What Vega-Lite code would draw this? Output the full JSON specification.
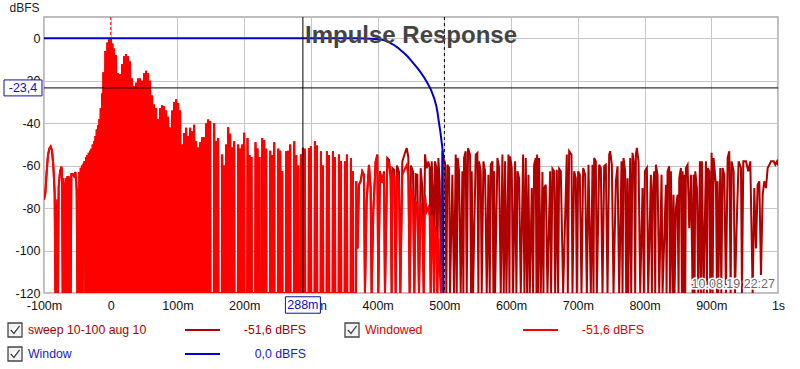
{
"$schema": "https://vega.github.io/schema/vega-lite/v6.json",
"width": 734, "height": 276,
"autosize": {"type": "none"},
"padding": {"left": 44, "top": 17, "right": 22, "bottom": 76},
"background": "white",
"title": {"text": "Impulse Response", "anchor": "middle", "frame": "group", "orient": "top", "offset": 0, "baseline": "alphabetic", "dy": 66, "font": "Liberation Sans", "fontSize": 24, "fontWeight": "bold", "color": "#444444"},
"config": {
  "font": "Liberation Sans",
  "view": {"stroke": "#a8a8a8", "strokeWidth": 1.5},
  "axis": {"domain": false, "ticks": false, "grid": true, "gridColor": "#c6c6c6", "gridWidth": 1, "labelFont": "Liberation Sans", "labelFontSize": 12.5, "labelColor": "#111111"},
  "legend": {"labelFont": "Liberation Sans", "labelFontSize": 12.3}
},
"datasets": {
"ir": [
{"t":-100,"s":-76,"w":-76},{"t":-98,"s":-73,"w":-73},{"t":-96,"s":-63,"w":-63},{"t":-94,"s":-55,"w":-55},{"t":-92,"s":-52,"w":-52},{"t":-90,"s":-51,"w":-51},{"t":-88,"s":-53,"w":-53},{"t":-86,"s":-60,"w":-60},{"t":-84,"s":-73,"w":-73},{"t":-83,"s":-120,"w":-120},{"t":-82,"s":-78,"w":-78},{"t":-81,"s":-120,"w":-120},{"t":-80,"s":-76,"w":-76},{"t":-79,"s":-120,"w":-120},{"t":-78,"s":-70,"w":-70},{"t":-76,"s":-63,"w":-63},{"t":-74,"s":-60.5,"w":-60.5},{"t":-73,"s":-62,"w":-62},{"t":-72,"s":-120,"w":-120},{"t":-71,"s":-66,"w":-66},{"t":-70,"s":-120,"w":-120},{"t":-69,"s":-68,"w":-68},{"t":-68,"s":-120,"w":-120},{"t":-67,"s":-66,"w":-66},{"t":-66,"s":-120,"w":-120},{"t":-65,"s":-65,"w":-65},{"t":-64,"s":-120,"w":-120},{"t":-63,"s":-65,"w":-65},{"t":-62,"s":-120,"w":-120},{"t":-61,"s":-66,"w":-66},{"t":-60,"s":-120,"w":-120},{"t":-59,"s":-64,"w":-64},{"t":-57,"s":-64,"w":-64},{"t":-55,"s":-65,"w":-65},{"t":-53,"s":-63,"w":-63},{"t":-52,"s":-66,"w":-66},{"t":-51,"s":-72,"w":-72},{"t":-50,"s":-120,"w":-120},{"t":-49,"s":-71,"w":-71},{"t":-48,"s":-120,"w":-120},{"t":-47,"s":-63,"w":-63},{"t":-46,"s":-120,"w":-120},{"t":-45,"s":-61,"w":-61},{"t":-44,"s":-120,"w":-120},{"t":-43,"s":-60,"w":-60},{"t":-42,"s":-120,"w":-120},{"t":-41,"s":-59.5,"w":-59.5},{"t":-40,"s":-59,"w":-59},{"t":-39,"s":-58,"w":-58},{"t":-38,"s":-120,"w":-120},{"t":-37,"s":-56,"w":-56},{"t":-36,"s":-120,"w":-120},{"t":-35,"s":-55,"w":-55},{"t":-34,"s":-120,"w":-120},{"t":-33,"s":-54,"w":-54},{"t":-32,"s":-120,"w":-120},{"t":-31,"s":-53,"w":-53},{"t":-30,"s":-120,"w":-120},{"t":-29,"s":-52,"w":-52},{"t":-28,"s":-120,"w":-120},{"t":-27,"s":-50,"w":-50},{"t":-26,"s":-120,"w":-120},{"t":-25,"s":-48.5,"w":-48.5},{"t":-24,"s":-120,"w":-120},{"t":-23,"s":-46,"w":-46},{"t":-22,"s":-120,"w":-120},{"t":-21,"s":-43,"w":-43},{"t":-20,"s":-120,"w":-120},{"t":-19,"s":-41,"w":-41},{"t":-18,"s":-120,"w":-120},{"t":-17,"s":-38,"w":-38},{"t":-16,"s":-120,"w":-120},{"t":-15,"s":-33,"w":-33},{"t":-14,"s":-120,"w":-120},{"t":-13,"s":-26,"w":-26},{"t":-12,"s":-120,"w":-120},
{"t":-11,"s":-16,"w":-16},{"t":-9.5,"s":-120,"w":-120},{"t":-8,"s":-6,"w":-6},{"t":-6.5,"s":-120,"w":-120},{"t":-5,"s":-2,"w":-2},{"t":-3.8,"s":-120,"w":-120},{"t":-2.5,"s":-0.6,"w":-0.6},{"t":-1.2,"s":-120,"w":-120},{"t":0,"s":0,"w":0},{"t":1.2,"s":-120,"w":-120},{"t":2.5,"s":-2.5,"w":-2.5},{"t":3.8,"s":-120,"w":-120},{"t":5,"s":-4.8,"w":-4.8},{"t":6.5,"s":-120,"w":-120},{"t":8,"s":-8,"w":-8},{"t":9.5,"s":-120,"w":-120},{"t":11,"s":-16.5,"w":-16.5},{"t":12.5,"s":-120,"w":-120},{"t":14,"s":-17,"w":-17},{"t":15.5,"s":-120,"w":-120},{"t":17,"s":-12.3,"w":-12.3},{"t":18.5,"s":-120,"w":-120},{"t":20,"s":-8.5,"w":-8.5},{"t":21.5,"s":-120,"w":-120},{"t":23,"s":-7.4,"w":-7.4},{"t":24.5,"s":-120,"w":-120},{"t":26,"s":-8.5,"w":-8.5},{"t":27.5,"s":-120,"w":-120},{"t":29,"s":-11,"w":-11},{"t":30.5,"s":-120,"w":-120},{"t":32,"s":-19,"w":-19},{"t":33.5,"s":-120,"w":-120},{"t":35,"s":-22.5,"w":-22.5},{"t":36.5,"s":-120,"w":-120},{"t":38,"s":-21,"w":-21},{"t":39.5,"s":-120,"w":-120},{"t":41,"s":-19,"w":-19},{"t":42.5,"s":-120,"w":-120},{"t":44,"s":-19,"w":-19},{"t":45.5,"s":-120,"w":-120},{"t":47,"s":-20,"w":-20},{"t":48.5,"s":-120,"w":-120},{"t":50,"s":-16.5,"w":-16.5},{"t":51.5,"s":-120,"w":-120},{"t":53,"s":-15.3,"w":-15.3},{"t":54.5,"s":-120,"w":-120},{"t":56,"s":-16.5,"w":-16.5},{"t":57.5,"s":-120,"w":-120},{"t":59,"s":-20,"w":-20},{"t":60.5,"s":-120,"w":-120},{"t":62,"s":-27,"w":-27},{"t":63.5,"s":-120,"w":-120},{"t":65,"s":-31.2,"w":-31.2},{"t":66.5,"s":-120,"w":-120},{"t":68,"s":-33,"w":-33},{"t":69.5,"s":-120,"w":-120},{"t":71,"s":-38,"w":-38},{"t":72.5,"s":-120,"w":-120},{"t":74,"s":-33,"w":-33},{"t":75.5,"s":-120,"w":-120},{"t":77,"s":-31.6,"w":-31.6},{"t":78.5,"s":-120,"w":-120},{"t":80,"s":-32,"w":-32},{"t":81.5,"s":-120,"w":-120},{"t":83,"s":-34,"w":-34},{"t":84.5,"s":-120,"w":-120},{"t":86,"s":-37,"w":-37},{"t":87.5,"s":-120,"w":-120},{"t":89,"s":-42,"w":-42},{"t":90.5,"s":-120,"w":-120},{"t":92,"s":-34,"w":-34},{"t":93.5,"s":-120,"w":-120},{"t":95,"s":-30,"w":-30},{"t":96.5,"s":-120,"w":-120},{"t":98,"s":-28.8,"w":-28.8},{"t":99.5,"s":-120,"w":-120},{"t":101,"s":-30.5,"w":-30.5},{"t":102.5,"s":-120,"w":-120},{"t":104,"s":-34,"w":-34},{"t":105.5,"s":-120,"w":-120},{"t":107,"s":-50,"w":-50},{"t":108.5,"s":-120,"w":-120},{"t":110,"s":-44.6,"w":-44.6},{"t":111.5,"s":-120,"w":-120},{"t":113,"s":-42.2,"w":-42.2},{"t":114.5,"s":-120,"w":-120},{"t":116,"s":-46,"w":-46},{"t":117.5,"s":-120,"w":-120},{"t":119,"s":-42.2,"w":-42.2},{"t":120.5,"s":-120,"w":-120},{"t":122,"s":-43.8,"w":-43.8},{"t":123.5,"s":-120,"w":-120},{"t":125,"s":-40.7,"w":-40.7},{"t":126.5,"s":-120,"w":-120},{"t":128,"s":-48.5,"w":-48.5},{"t":129.5,"s":-120,"w":-120},{"t":131,"s":-51.5,"w":-51.5},{"t":132.5,"s":-120,"w":-120},{"t":134,"s":-49,"w":-49},{"t":135.5,"s":-120,"w":-120},{"t":137,"s":-46.7,"w":-46.7},{"t":138.5,"s":-120,"w":-120},{"t":140,"s":-46.5,"w":-46.5},{"t":140.4,"s":-120,"w":-120},{"t":142.6,"s":-120,"w":-120},
{"t":143,"s":-40,"w":-40},{"t":144.5,"s":-120,"w":-120},{"t":146,"s":-38.3,"w":-38.3},{"t":147.5,"s":-120,"w":-120},{"t":149,"s":-39,"w":-39},{"t":149.4,"s":-120,"w":-120},{"t":154.6,"s":-120,"w":-120},
{"t":155,"s":-40,"w":-40},{"t":156.5,"s":-120,"w":-120},{"t":158,"s":-48.5,"w":-48.5},{"t":159.5,"s":-120,"w":-120},{"t":161,"s":-47,"w":-47},{"t":161.4,"s":-120,"w":-120},{"t":166.6,"s":-120,"w":-120},
{"t":167,"s":-54.8,"w":-54.8},{"t":168.5,"s":-120,"w":-120},{"t":170,"s":-60,"w":-60},{"t":171.5,"s":-120,"w":-120},{"t":173,"s":-50,"w":-50},{"t":173.4,"s":-120,"w":-120},{"t":175.6,"s":-120,"w":-120},
{"t":176,"s":-41.9,"w":-41.9},{"t":177.5,"s":-120,"w":-120},{"t":179,"s":-45,"w":-45},{"t":180.5,"s":-120,"w":-120},{"t":182,"s":-51.5,"w":-51.5},{"t":183.5,"s":-120,"w":-120},{"t":185,"s":-48.5,"w":-48.5},{"t":185.4,"s":-120,"w":-120},{"t":190.6,"s":-120,"w":-120},
{"t":191,"s":-50,"w":-50},{"t":192.5,"s":-120,"w":-120},{"t":194,"s":-52,"w":-52},{"t":195.5,"s":-120,"w":-120},{"t":197,"s":-50,"w":-50},{"t":198.5,"s":-120,"w":-120},{"t":200,"s":-44.5,"w":-44.5},{"t":200.4,"s":-120,"w":-120},{"t":204.6,"s":-120,"w":-120},
{"t":205,"s":-47,"w":-47},{"t":206.5,"s":-120,"w":-120},{"t":208,"s":-55,"w":-55},{"t":209.5,"s":-120,"w":-120},{"t":211,"s":-56,"w":-56},{"t":211.4,"s":-120,"w":-120},{"t":216.6,"s":-120,"w":-120},
{"t":217,"s":-49,"w":-49},{"t":218.5,"s":-120,"w":-120},{"t":220,"s":-52,"w":-52},{"t":221.5,"s":-120,"w":-120},{"t":223,"s":-56,"w":-56},{"t":223.4,"s":-120,"w":-120},{"t":226.6,"s":-120,"w":-120},
{"t":227,"s":-47,"w":-47},{"t":228.5,"s":-120,"w":-120},{"t":230,"s":-48,"w":-48},{"t":231.5,"s":-120,"w":-120},{"t":233,"s":-52,"w":-52},{"t":233.4,"s":-120,"w":-120},{"t":238.6,"s":-120,"w":-120},
{"t":239,"s":-53,"w":-53},{"t":240.5,"s":-120,"w":-120},{"t":242,"s":-55,"w":-55},{"t":243.5,"s":-120,"w":-120},{"t":245,"s":-49,"w":-49},{"t":245.4,"s":-120,"w":-120},{"t":250.6,"s":-120,"w":-120},
{"t":251,"s":-52,"w":-52},{"t":252.5,"s":-120,"w":-120},{"t":254,"s":-53,"w":-53},{"t":255.5,"s":-120,"w":-120},{"t":257,"s":-62.5,"w":-62.5},{"t":257.4,"s":-120,"w":-120},{"t":262.6,"s":-120,"w":-120},
{"t":263,"s":-53.2,"w":-53.2},{"t":264.5,"s":-120,"w":-120},{"t":266,"s":-53,"w":-53},{"t":267.5,"s":-120,"w":-120},{"t":269,"s":-50,"w":-50},{"t":269.4,"s":-120,"w":-120},{"t":274.6,"s":-120,"w":-120},
{"t":275,"s":-48.5,"w":-48.5},{"t":276.5,"s":-120,"w":-120},{"t":278,"s":-55,"w":-55},{"t":279.5,"s":-120,"w":-120},{"t":281,"s":-60,"w":-60},{"t":281.4,"s":-120,"w":-120},{"t":284.6,"s":-120,"w":-120},
{"t":285,"s":-54.8,"w":-54.8},{"t":286.5,"s":-120,"w":-120},{"t":288,"s":-51.6,"w":-51.6},{"t":289.5,"s":-120,"w":-120},{"t":291,"s":-52,"w":-52},{"t":291.4,"s":-120,"w":-120},{"t":296.6,"s":-120,"w":-120},
{"t":297,"s":-51.7,"w":-51.7},{"t":298.5,"s":-120,"w":-120},{"t":300,"s":-50.9,"w":-50.9},{"t":300.4,"s":-120,"w":-120},{"t":305.6,"s":-120,"w":-120},
{"t":306,"s":-48.5,"w":-48.5},{"t":307.5,"s":-120,"w":-120},{"t":309,"s":-50.5,"w":-50.5},{"t":309.4,"s":-120,"w":-120},{"t":314.6,"s":-120,"w":-120},
{"t":315,"s":-53.2,"w":-53.2},{"t":316.5,"s":-120,"w":-120},{"t":318,"s":-60,"w":-60},{"t":318.4,"s":-120,"w":-120},{"t":323.6,"s":-120,"w":-120},
{"t":324,"s":-53.2,"w":-53.2},{"t":325.5,"s":-120,"w":-120},{"t":327,"s":-55,"w":-55},{"t":327.4,"s":-120,"w":-120},{"t":332.6,"s":-120,"w":-120},
{"t":333,"s":-53.2,"w":-53.2},{"t":334.5,"s":-120,"w":-120},{"t":336,"s":-56,"w":-56},{"t":336.4,"s":-120,"w":-120},{"t":341.6,"s":-120,"w":-120},
{"t":342,"s":-54.8,"w":-54.8},{"t":343.5,"s":-120,"w":-120},{"t":345,"s":-58,"w":-58},{"t":345.4,"s":-120,"w":-120},{"t":350.6,"s":-120,"w":-120},
{"t":351,"s":-58,"w":-58},{"t":352.5,"s":-120,"w":-120},{"t":354,"s":-54.8,"w":-54.8},{"t":354.4,"s":-120,"w":-120},{"t":359.6,"s":-120,"w":-120},
{"t":360,"s":-56.4,"w":-56.4},{"t":361.5,"s":-120,"w":-120},{"t":363,"s":-62.7,"w":-62.7},{"t":363.4,"s":-120,"w":-120},{"t":367.6,"s":-120,"w":-120},{"t":368,"s":-67.4,"w":-67.4},
{"t":370,"s":-99,"w":-99},{"t":372,"s":-69,"w":-69},{"t":374.5,"s":-67.4,"w":-67.4},{"t":377,"s":-62.7,"w":-62.8},{"t":379.5,"s":-64.3,"w":-64.4},{"t":381,"s":-120,"w":-120},{"t":383.5,"s":-77,"w":-77.2},{"t":387,"s":-59.6,"w":-59.8},{"t":389.5,"s":-70.6,"w":-70.9},{"t":391,"s":-120,"w":-120},{"t":393.5,"s":-81.5,"w":-81.9},{"t":397,"s":-58,"w":-58.5},{"t":399.5,"s":-54.8,"w":-55.3},{"t":401,"s":-120,"w":-120},{"t":403.5,"s":-62.7,"w":-63.3},{"t":407,"s":-67.4,"w":-68.2},{"t":409.5,"s":-62.7,"w":-63.7},{"t":411,"s":-120,"w":-120},{"t":414.5,"s":-56.4,"w":-57.9},{"t":417,"s":-57.2,"w":-59.1},{"t":419.5,"s":-64.3,"w":-66.6},{"t":421,"s":-120,"w":-120},{"t":422,"s":-61.1,"w":-63.9},{"t":425,"s":-62,"w":-65.3},{"t":427,"s":-120,"w":-120},{"t":429,"s":-60,"w":-64.2},{"t":432,"s":-63,"w":-67.9},{"t":434,"s":-120,"w":-120},{"t":437,"s":-58,"w":-64.3},{"t":440,"s":-55,"w":-62.1},{"t":443.5,"s":-51.7,"w":-59.8},{"t":446,"s":-56,"w":-64.9},{"t":448,"s":-120,"w":-120},{"t":450,"s":-60,"w":-70.4},{"t":453,"s":-62.7,"w":-74.2},{"t":455,"s":-120,"w":-120},{"t":457,"s":-64,"w":-77},{"t":459.5,"s":-64.3,"w":-78.3},{"t":462,"s":-120,"w":-120},{"t":464.5,"s":-61.2,"w":-77.3},{"t":467,"s":-70.6,"w":-87.8},{"t":469,"s":-120,"w":-120},{"t":471,"s":-54.7,"w":-73.8},{"t":473.5,"s":-61.2,"w":-81.7},{"t":476,"s":-58,"w":-79.9},{"t":478,"s":-61.2,"w":-84.1},{"t":479.5,"s":-120,"w":-120},{"t":481,"s":-58,"w":-83.1},{"t":483,"s":-72,"w":-98.8},{"t":484.5,"s":-120,"w":-120},{"t":486,"s":-58,"w":-88.2},{"t":488,"s":-61,"w":-93},{"t":489.5,"s":-120,"w":-120},{"t":491,"s":-56.4,"w":-94.2},{"t":493,"s":-67.4,"w":-109.4},{"t":495,"s":-120,"w":-120},{"t":497,"s":-53,"w":-104.7},{"t":499,"s":-57,"w":-120},
{"t":501,"s":-58.5},{"t":503,"s":-120},{"t":504.5,"s":-59.6},{"t":507,"s":-61.1},{"t":508.5,"s":-120},{"t":512,"s":-64.3},{"t":514.5,"s":-120},{"t":517,"s":-54.8},{"t":518.5,"s":-120},{"t":520,"s":-56.4},{"t":522,"s":-62.7},{"t":524.5,"s":-120},{"t":527,"s":-62.7},{"t":528.5,"s":-120},{"t":529.5,"s":-56.4},{"t":532,"s":-53.2},{"t":533.5,"s":-120},{"t":535.5,"s":-51.7},{"t":538.5,"s":-54.8},{"t":540,"s":-120},{"t":541,"s":-62.7},{"t":543,"s":-120},{"t":547,"s":-54.8},{"t":549.5,"s":-54},{"t":551,"s":-120},{"t":552,"s":-58},{"t":554.5,"s":-62.7},{"t":556,"s":-120},{"t":558.5,"s":-58},{"t":561,"s":-62.7},{"t":563.5,"s":-120},{"t":566,"s":-64.3},{"t":568,"s":-120},{"t":569.5,"s":-59.6},{"t":572,"s":-58},{"t":573.5,"s":-120},{"t":574.5,"s":-62.7},{"t":576,"s":-120},{"t":579.5,"s":-56.4},{"t":582,"s":-61.1},{"t":584.5,"s":-120},{"t":587,"s":-54.8},{"t":589,"s":-120},{"t":591,"s":-58},{"t":593,"s":-120},{"t":596,"s":-54.8},{"t":597.5,"s":-120},{"t":598.5,"s":-55.6},{"t":601,"s":-61.1},{"t":603,"s":-120},{"t":606,"s":-58},{"t":608,"s":-120},{"t":609.5,"s":-62.7},{"t":612,"s":-65.9},{"t":614.5,"s":-120},{"t":618,"s":-54.8},{"t":620,"s":-120},{"t":622,"s":-56.4},{"t":624,"s":-120},{"t":626,"s":-64.3},{"t":628,"s":-120},{"t":631,"s":-70.6},{"t":633,"s":-120},{"t":634.5,"s":-59.6},{"t":637,"s":-56.4},{"t":638,"s":-120},{"t":639,"s":-54.8},{"t":640.5,"s":-120},{"t":642,"s":-56.4},{"t":644.5,"s":-120},{"t":647,"s":-63},{"t":648.5,"s":-120},{"t":649.5,"s":-70.6},{"t":652,"s":-69},{"t":654.5,"s":-120},{"t":658.5,"s":-62.7},{"t":660,"s":-120},{"t":662,"s":-61.5},{"t":664.5,"s":-62.7},{"t":666,"s":-120},{"t":668.5,"s":-62},{"t":670.5,"s":-120},{"t":672,"s":-61.5},{"t":674.5,"s":-62.7},{"t":678,"s":-120},{"t":683.5,"s":-54.8},{"t":685,"s":-120},{"t":687,"s":-53.2},{"t":690.5,"s":-54.8},{"t":692,"s":-120},{"t":694.5,"s":-62.7},{"t":697,"s":-65.9},{"t":698.5,"s":-120},{"t":700.5,"s":-62.7},{"t":703,"s":-64.3},{"t":705.5,"s":-120},{"t":708,"s":-61.1},{"t":711,"s":-64.3},{"t":713.5,"s":-120},{"t":716,"s":-59.6},{"t":719.5,"s":-120},{"t":722,"s":-59.6},{"t":723.5,"s":-120},{"t":724.5,"s":-56.4},{"t":727,"s":-58},{"t":728.5,"s":-120},{"t":732,"s":-59.6},{"t":734.5,"s":-61.1},{"t":737,"s":-120},{"t":739.5,"s":-60.3},{"t":742,"s":-59.6},{"t":744.5,"s":-120},{"t":747,"s":-54.8},{"t":748.5,"s":-53.2},{"t":751,"s":-59.6},{"t":753.5,"s":-120},{"t":757,"s":-67.4},{"t":759.5,"s":-60.3},{"t":762,"s":-120},{"t":765.5,"s":-58},{"t":767,"s":-120},{"t":768.5,"s":-56.4},{"t":771,"s":-62.7},{"t":772.5,"s":-120},{"t":774.5,"s":-65.9},{"t":775.5,"s":-120},{"t":778.5,"s":-56.4},{"t":780,"s":-120},{"t":782,"s":-54},{"t":784.5,"s":-59.6},{"t":786,"s":-120},{"t":787,"s":-54.8},{"t":788.5,"s":-51.7},{"t":791,"s":-58},{"t":793.5,"s":-120},{"t":797,"s":-70.6},{"t":799,"s":-120},{"t":800.5,"s":-62.7},{"t":803.5,"s":-61.1},{"t":805.5,"s":-120},{"t":809.5,"s":-64.3},{"t":811,"s":-120},{"t":812,"s":-75.3},{"t":814.5,"s":-62.7},{"t":816,"s":-120},{"t":817,"s":-59.6},{"t":819.5,"s":-64.3},{"t":822,"s":-120},{"t":825.5,"s":-64.3},{"t":827,"s":-120},{"t":832,"s":-69},{"t":833,"s":-120},{"t":834.5,"s":-62.7},{"t":837,"s":-60.3},{"t":838,"s":-120},{"t":839.5,"s":-62.7},{"t":842,"s":-120},{"t":843.5,"s":-73.7},{"t":845,"s":-120},{"t":847,"s":-80},{"t":849.5,"s":-73.7},{"t":851,"s":-120},{"t":852,"s":-65.9},{"t":854.5,"s":-61.1},{"t":856,"s":-120},{"t":857,"s":-62.7},{"t":858,"s":-120},{"t":859.5,"s":-64.3},{"t":861,"s":-120},{"t":862,"s":-61.1},{"t":864.5,"s":-59.6},{"t":867,"s":-89.5},{"t":869.5,"s":-64.3},{"t":872,"s":-120},{"t":873.5,"s":-64.3},{"t":875,"s":-120},{"t":876,"s":-62.7},{"t":878.5,"s":-70.6},{"t":880.5,"s":-120},{"t":883,"s":-58},{"t":884.5,"s":-120},{"t":886,"s":-58},{"t":888.5,"s":-120},{"t":892,"s":-58},{"t":893.5,"s":-120},{"t":894.5,"s":-61.1},{"t":897,"s":-62.7},{"t":898.5,"s":-120},{"t":900.5,"s":-54},{"t":902,"s":-120},{"t":903.5,"s":-56.4},{"t":907,"s":-69},{"t":908.5,"s":-120},{"t":909.5,"s":-67.4},{"t":910.5,"s":-120},{"t":913.5,"s":-61.1},{"t":915,"s":-120},{"t":917,"s":-61.1},{"t":919.5,"s":-64.3},{"t":922,"s":-120},{"t":924.5,"s":-56.4},{"t":927,"s":-53.2},{"t":929,"s":-120},{"t":930.5,"s":-58},{"t":933.5,"s":-62.7},{"t":935.5,"s":-120},{"t":938.5,"s":-83.2},{"t":941,"s":-58},{"t":944.5,"s":-61.1},{"t":946,"s":-120},{"t":948,"s":-58},{"t":952,"s":-58},{"t":955.5,"s":-62.7},{"t":958.5,"s":-58},{"t":962,"s":-120},{"t":964.5,"s":-70.6},{"t":967,"s":-99},{"t":969.5,"s":-69},{"t":972,"s":-67.4},{"t":974.5,"s":-111.5},{"t":977,"s":-73.7},{"t":979.5,"s":-67.4},{"t":982,"s":-70.6},{"t":984.5,"s":-61.1},{"t":987,"s":-59.6},{"t":989.5,"s":-58},{"t":993.5,"s":-58},{"t":996,"s":-59.6},{"t":998.5,"s":-58},{"t":1000,"s":-60}
],
"win": [
{"t":-100,"v":0},{"t":370,"v":0},{"t":380,"v":-0.1},{"t":390,"v":-0.25},{"t":400,"v":-0.45},{"t":405,"v":-0.6},{"t":410,"v":-1},{"t":415,"v":-1.6},{"t":420,"v":-2.4},{"t":425,"v":-3.3},{"t":430,"v":-4.4},{"t":435,"v":-5.8},{"t":440,"v":-7.1},{"t":445,"v":-8.6},{"t":450,"v":-10.4},{"t":455,"v":-12.3},{"t":460,"v":-14.2},{"t":465,"v":-16.3},{"t":470,"v":-18.6},{"t":475,"v":-21.3},{"t":480,"v":-24.3},{"t":485,"v":-28.5},{"t":488,"v":-32},{"t":490,"v":-35.5},{"t":492,"v":-40},{"t":494,"v":-44},{"t":496,"v":-49},{"t":497.5,"v":-53},{"t":498.5,"v":-120}
],
"cur": [{"t":288,"db":-23.4,"pt":0,"we":500,"ts":"10.08.19 22:27"}]
},
"layer": [
{"data": {"name": "ir"},
 "mark": {"type": "line", "strokeWidth": 2, "clip": true},
 "encoding": {
  "x": {"field": "t", "type": "quantitative", "scale": {"domain": [-100, 1000], "nice": false, "zero": false},
        "axis": {"values": [-100,0,100,200,300,400,500,600,700,800,900,1000], "labelExpr": "datum.value == 0 ? '0' : datum.value == 1000 ? '1s' : datum.value + 'm'", "labelPadding": 6, "title": null, "labelFlush": false, "labelOverlap": false}},
  "y": {"field": "s", "type": "quantitative", "scale": {"domain": [-120, 10], "nice": false, "zero": false},
        "axis": {"values": [-120,-100,-80,-60,-40,-20,0], "labelExpr": "'' + datum.value", "labelPadding": 4, "title": "dBFS", "titleAngle": 0, "titleAlign": "center", "titleBaseline": "middle", "titleX": -20, "titleY": -10, "titleFontSize": 12, "titleFontWeight": "normal", "titleColor": "#222222", "titleFont": "Liberation Sans"}},
  "stroke": {"datum": "s", "type": "nominal",
            "scale": {"domain": ["s", "w", "win"], "range": ["#b00000", "#ff0000", "#0000cc"]},
            "legend": {"orient": "none", "legendX": 140, "legendY": 305, "direction": "horizontal", "columns": 2, "title": null, "padding": 0, "gridAlign": "all", "columnPadding": 216, "rowPadding": 8, "clipHeight": 16,
                       "symbolType": "stroke", "symbolSize": 1225, "symbolStrokeWidth": 2, "labelOffset": 85, "labelAlign": "right", "labelFontSize": 12.3,
                       "labelExpr": "datum.value == 'win' ? '0,0 dBFS' : '-51,6 dBFS'",
                       "encode": {"labels": {"update": {"fill": {"signal": "datum.value == 'win' ? '#1a1acc' : datum.value == 'w' ? '#e00000' : '#a80000'"}}}}}}
 }},
{"data": {"name": "ir"},
 "transform": [{"filter": "isValid(datum.w)"}],
 "mark": {"type": "line", "strokeWidth": 2, "clip": true},
 "encoding": {
  "x": {"field": "t", "type": "quantitative"},
  "y": {"field": "w", "type": "quantitative"},
  "stroke": {"datum": "w", "type": "nominal"}
 }},
{"data": {"name": "win"},
 "mark": {"type": "line", "strokeWidth": 2, "clip": true},
 "encoding": {
  "x": {"field": "t", "type": "quantitative"},
  "y": {"field": "v", "type": "quantitative"},
  "stroke": {"datum": "win", "type": "nominal"}
 }},
{"data": {"name": "cur"},
 "mark": {"type": "line", "strokeWidth": 1.3, "clip": true},
 "encoding": {
  "x": {"datum": -100}, "y": {"datum": -120},
  "color": {"datum": "sweep 10-100 aug 10", "type": "nominal",
            "scale": {"domain": ["sweep 10-100 aug 10", "Windowed", "Window"], "range": ["#454545", "#454545", "#454545"]},
            "legend": {"orient": "none", "legendX": -37, "legendY": 305, "direction": "horizontal", "columns": 2, "title": null, "padding": 0, "gridAlign": "all", "columnPadding": 197, "rowPadding": 8, "clipHeight": 16,
                       "symbolType": "M-1,-1H1V1H-1Z M-0.6,0L-0.15,0.5L0.65,-0.6", "symbolSize": 196, "symbolStrokeWidth": 1.3, "labelOffset": 5, "labelFontSize": 12.3,
                       "encode": {"symbols": {"update": {"fill": {"value": "#f2f2f2"}}},
                                  "labels": {"update": {"fill": {"signal": "datum.value == 'Window' ? '#1a1acc' : datum.value == 'Windowed' ? '#e00000' : '#a80000'"}}}}}}
 }},
{"data": {"name": "cur"},
 "mark": {"type": "rule", "color": "#ff0000", "strokeDash": [3, 2], "strokeWidth": 1},
 "encoding": {"x": {"field": "pt", "type": "quantitative"}, "y": {"datum": 10}, "y2": {"datum": 0}}},
{"data": {"name": "cur"},
 "mark": {"type": "rule", "color": "#000000", "strokeDash": [3, 3], "strokeWidth": 1},
 "encoding": {"x": {"field": "we", "type": "quantitative"}}},
{"data": {"name": "cur"},
 "mark": {"type": "rule", "color": "#000000", "strokeWidth": 1},
 "encoding": {"y": {"field": "db", "type": "quantitative"}}},
{"data": {"name": "cur"},
 "mark": {"type": "rule", "color": "#000000", "strokeWidth": 1},
 "encoding": {"x": {"field": "t", "type": "quantitative"}}},
{"data": {"name": "cur"},
 "mark": {"type": "point", "shape": "M-1,-0.42H1V0.42H-1Z", "size": 1444, "fill": "#ffffff", "fillOpacity": 1, "stroke": "#1010a0", "strokeWidth": 1, "opacity": 1, "xOffset": -21},
 "encoding": {"x": {"datum": -100}, "y": {"field": "db", "type": "quantitative"}}},
{"data": {"name": "cur"},
 "transform": [{"calculate": "replace(toString(datum.db), '.', ',')", "as": "lab"}],
 "mark": {"type": "text", "color": "#1010c0", "fontSize": 12.5, "font": "Liberation Sans", "align": "center", "baseline": "middle", "dx": -21},
 "encoding": {"x": {"datum": -100}, "y": {"field": "db", "type": "quantitative"}, "text": {"field": "lab"}}},
{"data": {"name": "cur"},
 "mark": {"type": "point", "shape": "M-1,-0.47H1V0.47H-1Z", "size": 1225, "fill": "#ffffff", "fillOpacity": 1, "stroke": "#1010a0", "strokeWidth": 1, "opacity": 1, "yOffset": 12},
 "encoding": {"x": {"field": "t", "type": "quantitative"}, "y": {"datum": -120}}},
{"data": {"name": "cur"},
 "transform": [{"calculate": "toString(datum.t) + 'm'", "as": "lab"}],
 "mark": {"type": "text", "color": "#1010c0", "fontSize": 12.5, "font": "Liberation Sans", "align": "center", "baseline": "middle", "dy": 12},
 "encoding": {"x": {"field": "t", "type": "quantitative"}, "y": {"datum": -120}, "text": {"field": "lab"}}},
{"data": {"name": "cur"},
 "mark": {"type": "text", "color": "#ffffff", "stroke": "#ffffff", "strokeWidth": 3, "fontSize": 12.5, "font": "Liberation Sans", "align": "right", "baseline": "alphabetic", "dx": -3, "dy": -5},
 "encoding": {"x": {"datum": 1000}, "y": {"datum": -120}, "text": {"field": "ts"}}},
{"data": {"name": "cur"},
 "mark": {"type": "text", "color": "#6a6a6a", "fontSize": 12.5, "font": "Liberation Sans", "align": "right", "baseline": "alphabetic", "dx": -3, "dy": -5},
 "encoding": {"x": {"datum": 1000}, "y": {"datum": -120}, "text": {"field": "ts"}}}
]
}
